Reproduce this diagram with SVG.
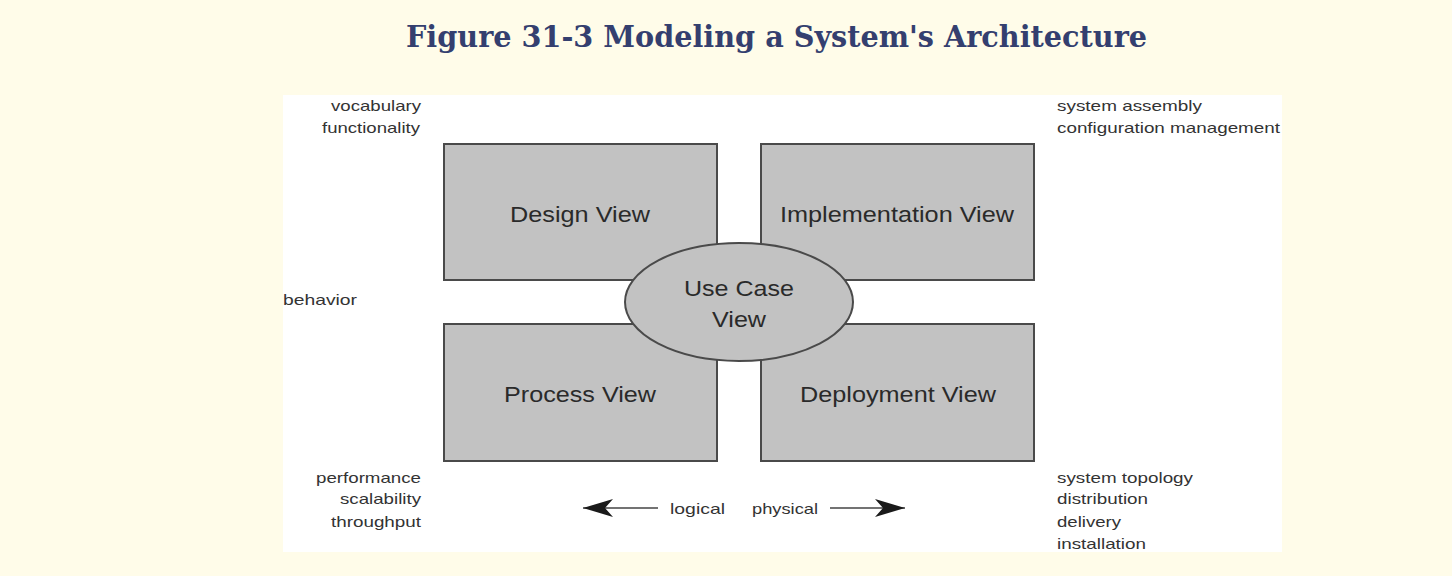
<svg xmlns="http://www.w3.org/2000/svg" width="1452" height="576" viewBox="0 0 1452 576">
<style>
.title{font-family:"DejaVu Serif","Liberation Serif",serif;font-weight:bold;font-size:29px;fill:#343f6f}
.box{fill:#c2c2c2;stroke:#4a4a4a;stroke-width:2}
.lbl{font-family:"Liberation Sans",Arial,sans-serif;font-size:22px;fill:#2a2a2a;text-anchor:middle}
.sm{font-family:"Liberation Sans",Arial,sans-serif;font-size:15px;fill:#333}
.r{text-anchor:end}
.conn{stroke:#444;stroke-width:1.6;fill:none}
</style>
<defs>
<marker id="arr" viewBox="0 0 30 18" refX="30" refY="9" markerWidth="30" markerHeight="18" markerUnits="userSpaceOnUse" orient="auto">
<path d="M0,0 L30,9 L0,18 L8,9 Z" fill="#1a1a1a"/>
</marker>
</defs>
<rect width="1452" height="576" fill="#fffce9"/>
<text class="title" x="406" y="47" textLength="741" lengthAdjust="spacingAndGlyphs">Figure 31-3 Modeling a System's Architecture</text>
<rect x="283" y="95" width="999" height="457" fill="#ffffff"/>

<g id="labels">
<text class="sm r" x="421" y="111" textLength="90" lengthAdjust="spacingAndGlyphs">vocabulary</text>
<text class="sm r" x="420" y="133" textLength="98" lengthAdjust="spacingAndGlyphs">functionality</text>
<text class="sm" x="283" y="305" textLength="74" lengthAdjust="spacingAndGlyphs">behavior</text>
<text class="sm r" x="421" y="483" textLength="105" lengthAdjust="spacingAndGlyphs">performance</text>
<text class="sm r" x="421" y="504" textLength="81" lengthAdjust="spacingAndGlyphs">scalability</text>
<text class="sm r" x="421" y="527" textLength="90" lengthAdjust="spacingAndGlyphs">throughput</text>
<text class="sm" x="1057" y="111" textLength="145" lengthAdjust="spacingAndGlyphs">system assembly</text>
<text class="sm" x="1057" y="133" textLength="223" lengthAdjust="spacingAndGlyphs">configuration management</text>
<text class="sm" x="1057" y="483" textLength="136" lengthAdjust="spacingAndGlyphs">system topology</text>
<text class="sm" x="1057" y="504" textLength="91" lengthAdjust="spacingAndGlyphs">distribution</text>
<text class="sm" x="1057" y="527" textLength="64" lengthAdjust="spacingAndGlyphs">delivery</text>
<text class="sm" x="1057" y="549" textLength="89" lengthAdjust="spacingAndGlyphs">installation</text>
<text class="sm" x="670" y="514" textLength="55" lengthAdjust="spacingAndGlyphs">logical</text>
<text class="sm" x="752" y="514" textLength="66" lengthAdjust="spacingAndGlyphs">physical</text>
</g>

<g id="design-view">
<rect class="box" x="444" y="144" width="273" height="136"/>
<text class="lbl" x="580" y="222" textLength="140" lengthAdjust="spacingAndGlyphs">Design View</text>
</g>
<g id="implementation-view">
<rect class="box" x="761" y="144" width="273" height="136"/>
<text class="lbl" x="897" y="222" textLength="234" lengthAdjust="spacingAndGlyphs">Implementation View</text>
</g>
<g id="process-view">
<rect class="box" x="444" y="324" width="273" height="137"/>
<text class="lbl" x="580" y="402" textLength="152" lengthAdjust="spacingAndGlyphs">Process View</text>
</g>
<g id="deployment-view">
<rect class="box" x="761" y="324" width="273" height="137"/>
<text class="lbl" x="898" y="402" textLength="196" lengthAdjust="spacingAndGlyphs">Deployment View</text>
</g>
<g id="use-case-view">
<ellipse class="box" cx="739" cy="302" rx="114" ry="59"/>
<text class="lbl" x="739" y="296" textLength="110" lengthAdjust="spacingAndGlyphs">Use Case</text>
<text class="lbl" x="739" y="327" textLength="54" lengthAdjust="spacingAndGlyphs">View</text>
</g>

<g id="connectors">
<line class="conn" x1="658" y1="508" x2="583" y2="508" marker-end="url(#arr)"/>
<line class="conn" x1="830" y1="508" x2="905" y2="508" marker-end="url(#arr)"/>
</g>
</svg>
